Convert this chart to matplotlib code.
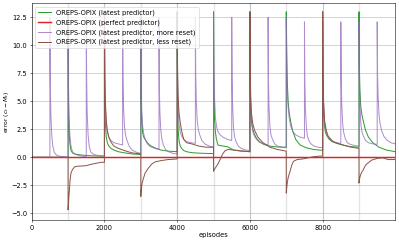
import numpy as np
import matplotlib
matplotlib.use("Agg")
import matplotlib.pyplot as plt

# ---------------- data ----------------
episodes_end = 9999

# green: OREPS-OPIX (latest predictor) -- resets at every 1000 episodes
green_starts = [1000, 2000, 3000, 4000, 5000, 6000, 7000, 8000, 9000]
green_offsets = [0, 10, 25, 50, 80, 120, 180, 260, 380, 550, 750, 999]
green_vals = [
    [13.0, 5.0, 2.5, 1.2, 0.6, 0.4, 0.3, 0.25, 0.2, 0.15, 0.12, 0.1],
    [13.0, 5.0, 3.0, 1.8, 1.3, 1.0, 0.8, 0.65, 0.5, 0.4, 0.3, 0.25],
    [13.0, 5.5, 3.5, 2.2, 1.8, 1.6, 1.3, 1.05, 0.85, 0.65, 0.55, 0.5],
    [13.0, 5.0, 2.5, 1.5, 1.05, 0.8, 0.6, 0.5, 0.42, 0.38, 0.35, 0.33],
    [13.0, 6.0, 3.5, 2.3, 1.6, 1.1, 1.05, 1.0, 0.95, 0.65, 0.55, 0.5],
    [13.0, 6.0, 4.0, 3.0, 2.5, 2.1, 1.7, 1.4, 1.15, 1.0, 0.92, 0.9],
    [13.0, 10.0, 7.0, 5.0, 4.0, 3.2, 2.3, 1.6, 1.1, 0.85, 0.7, 0.62],
    [13.0, 6.0, 4.0, 2.8, 2.2, 1.9, 1.6, 1.4, 1.25, 1.1, 0.95, 0.9],
    [13.0, 8.0, 6.0, 4.5, 3.8, 3.2, 2.4, 1.8, 1.3, 0.9, 0.65, 0.5],
]

# red: OREPS-OPIX (perfect predictor)
red_x = [0, 9999]
red_y = [0.0, 0.0]

# purple: OREPS-OPIX (latest predictor, more reset) -- resets every 500 episodes
purple_starts = [500, 1000, 1500, 2000, 2500, 3000, 3500, 4000, 4500, 5000,
                 5500, 6000, 6500, 7000, 7500, 8000, 8500, 9000, 9500]
purple_offsets = [0, 10, 25, 50, 80, 120, 180, 260, 380, 499]
purple_vals = [
    [12.5, 7.0, 4.0, 2.0, 1.0, 0.45, 0.2, 0.1, 0.05, 0.05],
    [12.5, 6.5, 3.8, 1.9, 1.0, 0.5, 0.3, 0.2, 0.1, 0.05],
    [12.5, 7.0, 4.0, 2.0, 1.0, 0.5, 0.3, 0.2, 0.15, 0.1],
    [12.5, 7.0, 4.5, 3.0, 2.2, 1.8, 1.5, 1.3, 1.2, 1.1],
    [12.5, 7.0, 4.5, 2.8, 2.0, 1.5, 1.0, 0.65, 0.45, 0.35],
    [12.5, 6.5, 4.2, 2.8, 2.1, 1.6, 1.2, 0.95, 0.8, 0.7],
    [12.5, 6.0, 4.0, 2.4, 1.6, 1.1, 0.7, 0.5, 0.35, 0.3],
    [12.5, 7.0, 4.5, 3.0, 2.3, 1.9, 1.6, 1.4, 1.3, 1.25],
    [12.5, 7.5, 5.0, 3.3, 2.5, 2.0, 1.5, 1.2, 1.0, 0.9],
    [12.5, 8.0, 5.5, 3.6, 2.8, 2.3, 2.0, 1.8, 1.6, 1.5],
    [12.5, 7.0, 4.5, 2.6, 1.8, 1.4, 1.0, 0.8, 0.65, 0.6],
    [12.5, 7.0, 4.5, 3.0, 2.3, 1.9, 1.6, 1.35, 1.2, 1.1],
    [12.5, 7.0, 4.5, 2.8, 2.0, 1.6, 1.2, 1.0, 0.9, 0.85],
    [12.5, 8.5, 6.5, 4.5, 3.5, 2.8, 2.3, 2.0, 1.8, 1.7],
    [12.1, 7.0, 4.5, 2.8, 1.9, 1.5, 1.2, 1.0, 0.9, 0.85],
    [12.1, 7.0, 4.8, 3.3, 2.5, 2.0, 1.7, 1.45, 1.3, 1.25],
    [12.1, 7.0, 4.8, 3.0, 2.2, 1.7, 1.3, 1.15, 1.05, 1.0],
    [12.1, 7.0, 4.8, 3.0, 2.3, 1.9, 1.5, 1.3, 1.2, 1.15],
    [12.1, 7.5, 5.5, 3.8, 3.0, 2.4, 1.9, 1.55, 1.3, 1.2],
]

# brown: OREPS-OPIX (latest predictor, less reset)
brown_x = [0, 1000, 1000, 1010, 1020, 1035, 1055, 1080, 1120, 1180, 1250, 1500, 1600, 1750, 1900, 1999,
           2000, 2010, 2025, 2050, 2080, 2120, 2180, 2260, 2380, 2550, 2750, 2999,
           3000, 3010, 3030, 3070, 3120, 3200, 3300, 3400, 3550, 3750, 3999,
           4000, 4010, 4025, 4050, 4080, 4120, 4180, 4260, 4400, 4600, 4800, 4999,
           5000, 5020, 5060, 5120, 5180, 5250, 5320, 5400, 5550, 5700, 5850, 5999,
           6000, 6010, 6020, 6040, 6080, 6130, 6220, 6360, 6550, 6750, 6999,
           7000, 7010, 7030, 7060, 7100, 7150, 7200, 7300, 7450, 7600, 7750, 7900, 7999,
           8000, 8010, 8025, 8055, 8100, 8150, 8285, 8420, 8600, 8790, 8999,
           9000, 9015, 9040, 9080, 9120, 9180, 9250, 9350, 9500, 9650, 9800, 9999]
brown_y = [0.0, 0.0, -4.7, -4.2, -3.6, -3.0, -2.0, -1.4, -1.1, -0.85, -0.8, -0.75, -0.65, -0.55, -0.45, -0.45,
           13.0, 7.5, 5.0, 3.3, 2.4, 1.8, 1.35, 1.0, 0.8, 0.6, 0.4, 0.3,
           -3.5, -3.0, -2.4, -1.9, -1.4, -1.0, -0.6, -0.4, -0.3, -0.2, -0.15,
           13.0, 8.0, 5.5, 4.0, 3.2, 2.4, 1.6, 1.3, 1.2, 1.0, 0.9, 0.9,
           -1.25, -1.1, -0.9, -0.6, -0.2, 0.3, 0.6, 0.7, 0.65, 0.6, 0.55, 0.5,
           13.0, 7.5, 5.5, 4.0, 3.0, 2.4, 1.8, 1.3, 0.9, 0.7, 0.55,
           -3.2, -2.8, -2.2, -1.7, -1.3, -0.7, -0.35, -0.2, -0.15, -0.05, 0.05, 0.1, 0.1,
           13.0, 7.5, 5.0, 3.2, 2.4, 1.9, 1.4, 1.24, 1.06, 0.9, 0.8,
           -2.3, -1.9, -1.6, -1.3, -1.1, -0.7, -0.5, -0.25, -0.1, -0.05, -0.2, -0.2]

change_points = [1000, 2000, 3000, 4000, 5000, 6000, 7000, 8000, 9000]
x_ticks = [0, 2000, 4000, 6000, 8000]
y_ticks = [-5.0, -2.5, 0.0, 2.5, 5.0, 7.5, 10.0, 12.5]

labels = ["OREPS-OPIX (latest predictor)",
          "OREPS-OPIX (perfect predictor)",
          "OREPS-OPIX (latest predictor, more reset)",
          "OREPS-OPIX (latest predictor, less reset)"]


def build(starts, offsets, vals):
    xs = [0]
    ys = [0.0]
    for s, v in zip(starts, vals):
        xs.append(s)
        ys.append(ys[-1])
        for o, val in zip(offsets, v):
            xs.append(min(s + o, episodes_end))
            ys.append(val)
    return xs, ys


green_x, green_y = build(green_starts, green_offsets, green_vals)
purple_x, purple_y = build(purple_starts, purple_offsets, purple_vals)

# ---------------- plot ----------------
DPI = 48
fig = plt.figure(figsize=(399 / DPI, 242 / DPI), dpi=DPI)
ax = fig.add_axes([0.0795, 0.091, 0.9105, 0.895])

for cp in change_points:
    ax.axvline(cp, color="lightgray", lw=2.0, alpha=0.6, zorder=0.5)

ax.plot(green_x, green_y, color="tab:green", lw=1.5, label=labels[0])
ax.plot(red_x, red_y, color="#d62728", lw=2.2, label=labels[1])
ax.plot(purple_x, purple_y, color="tab:purple", lw=1.5, alpha=0.75, label=labels[2])
ax.plot(brown_x, brown_y, color="tab:brown", lw=1.5, label=labels[3])

ax.set_xlim(0, 9990)
ax.set_ylim(-5.6, 13.75)
ax.set_xticks(x_ticks)
ax.set_yticks(y_ticks)
ax.grid(True)
ax.set_axisbelow(True)
ax.set_xlabel("episodes", labelpad=2)
ax.set_ylabel("error $(c_t - M_t)$", labelpad=0, fontsize=9)
ax.legend(loc="upper left")

fig.savefig("out.png", dpi=DPI)
